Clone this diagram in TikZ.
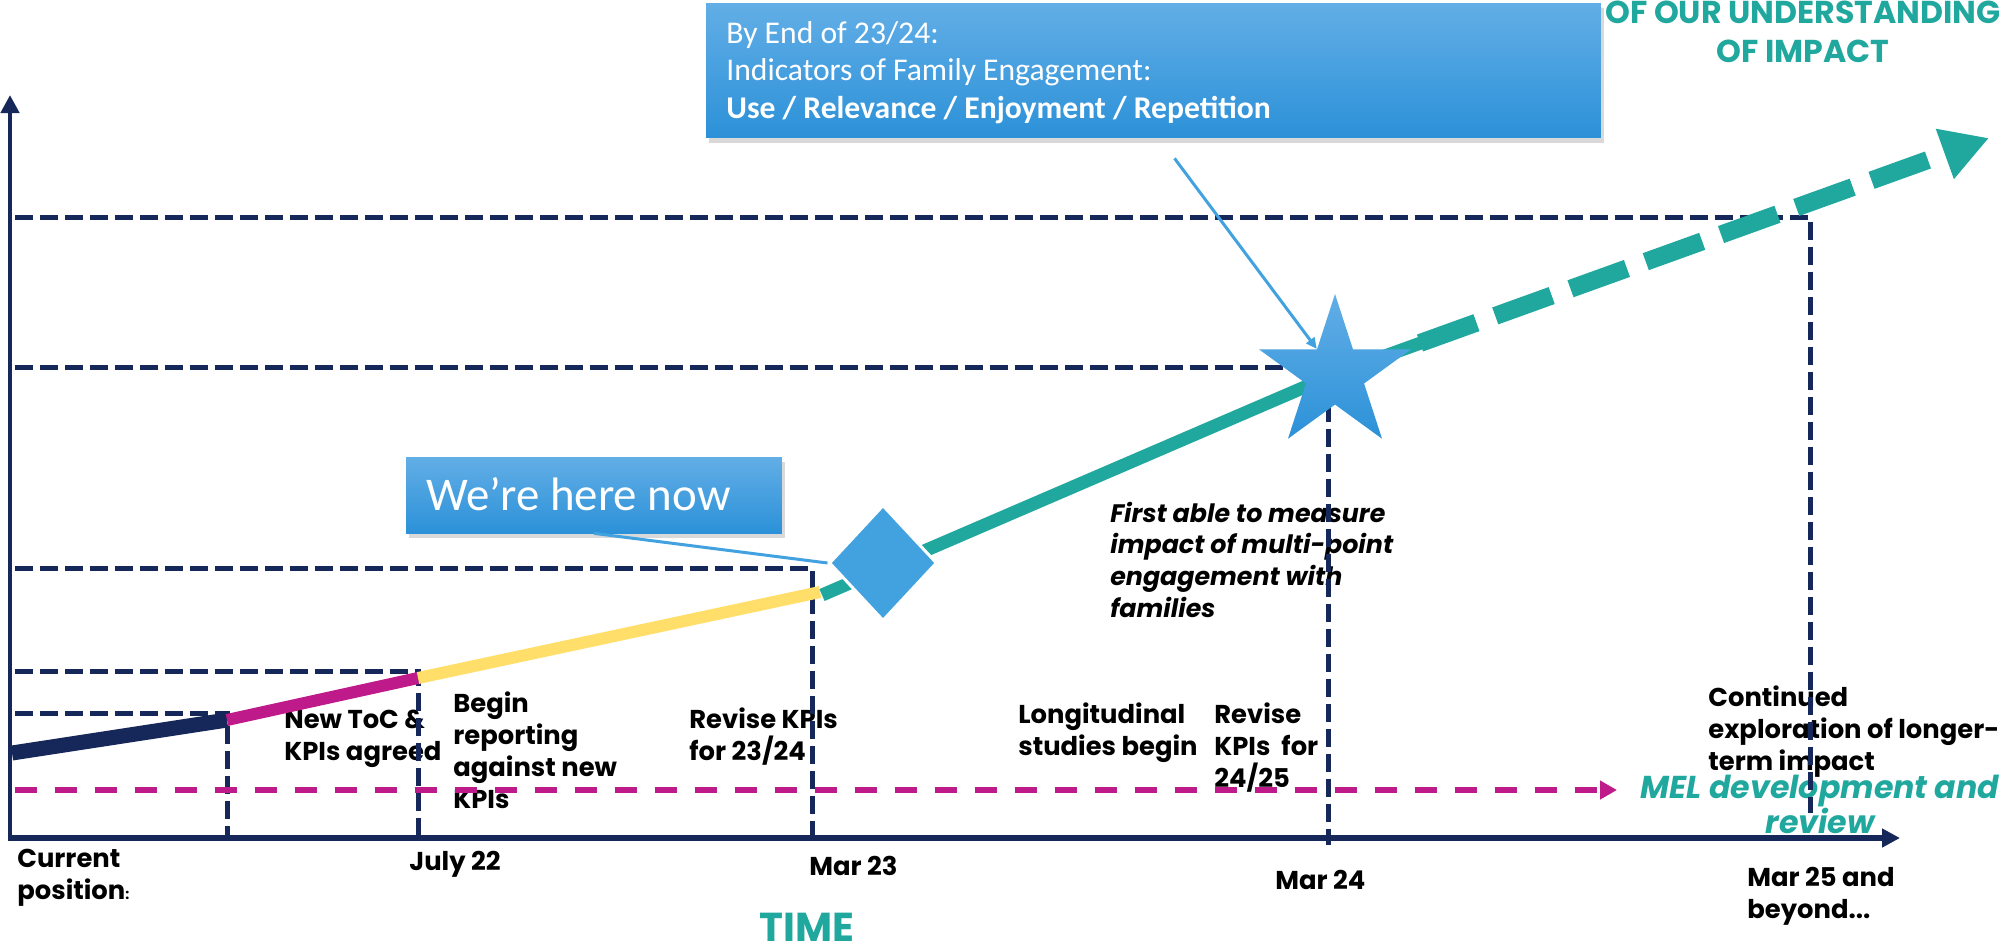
\documentclass[tikz,border=0pt]{standalone}
\usepackage{fontspec}
\setmainfont{Poppins}
\newfontfamily\calibri{Carlito}
\usetikzlibrary{arrows.meta}
\usetikzlibrary{shapes.geometric}
\usetikzlibrary{shadows}

\definecolor{navy}{RGB}{22,39,89}
\definecolor{mag}{RGB}{190,26,138}
\definecolor{sun}{RGB}{255,222,105}
\definecolor{impact}{RGB}{32,168,158}
\definecolor{skytop}{RGB}{98,174,230}
\definecolor{skybot}{RGB}{44,145,216}
\definecolor{marker}{RGB}{66,162,224}

\begin{document}
\begin{tikzpicture}[x=0.02cm,y=-0.02cm,
    guide/.style={navy,line width=0.1cm,dash pattern=on 0.36cm off 0.14cm},
    lbl/.style={font=\bfseries\fontsize{14.7}{18.2}\selectfont,align=left,inner sep=0pt,anchor=base west},
    callout/.style={top color=skytop,bottom color=skybot,draw=none,inner sep=0pt,
        drop shadow={shadow xshift=0.06cm,shadow yshift=-0.1cm,opacity=0.3}},
    pointer/.style={marker,line width=0.06cm}]
        \useasboundingbox (0,0) rectangle (2000,951);
        % labels under the time line (placed by the baseline of the last line)
        \node[lbl] (now0) at (17,899) {Current\\position{\fontsize{8}{8}\selectfont:}};
        \node[lbl] (jul22) at (409,870) {July 22};
        \node[lbl] (mar23) at (809,875) {Mar 23};
        \node[lbl] (mar24) at (1275,889) {Mar 24};
        \node[lbl] (mar25) at (1747,918) {Mar 25 and\\beyond...};
        \node[font=\bfseries\fontsize{23}{26}\selectfont,text=impact,anchor=base,inner sep=0pt] (timelbl) at (807,941) {TIME};
        % milestones
        \node[lbl] (toc) at (284,760) {New ToC \&\\KPIs agreed};
        \node[lbl] (report) at (453,808) {Begin\\reporting\\against new\\KPIs};
        \node[lbl] (rev1) at (689,760) {Revise KPIs\\for 23/24};
        \node[lbl] (longi) at (1018,755) {Longitudinal\\studies begin};
        \node[lbl] (rev2) at (1214,787) {Revise\\KPIs\ \ for\\24/25};
        \node[lbl] (cont) at (1708,770) {Continued\\exploration of longer-\\term impact};
        \node[lbl,font=\bfseries\itshape\fontsize{14.4}{18}\selectfont] (first) at (1110,617) {First able to measure\\impact of multi-point\\engagement with\\families};
        \node[font=\bfseries\itshape\fontsize{18}{19.9}\selectfont,text=impact,align=center,anchor=base,inner sep=0pt] (mel) at (1820,833) {MEL development and\\review};
        \node[font=\bfseries\fontsize{18}{22}\selectfont,text=impact,align=center,anchor=base,inner sep=0pt] (head) at (1803,62) {OF OUR UNDERSTANDING\\OF IMPACT};
        % axes
        \draw[navy,line width=0.1cm,-{Triangle[length=0.36cm,width=0.36cm]}] (10,841) -- (10,95);
        \draw[navy,line width=0.12cm,-{Triangle[length=0.36cm,width=0.36cm]}] (8,838) -- (1900,838);
        % guide lines
        \draw[guide] (15,713) -- (227,713) -- (227,838);
        \draw[guide] (15,671) -- (418,671) -- (418,838);
        \draw[guide] (15,568) -- (812,568) -- (812,838);
        \draw[guide] (15,367) -- (1328,367) -- (1328,845);
        \draw[guide] (15,217) -- (1810,217) -- (1810,813);
        \draw[mag,line width=0.12cm,dash pattern=on 0.44cm off 0.36cm,-{Triangle[length=0.34cm,width=0.36cm]}] (15,790) -- (1617,790);
        % trend
        \draw[navy,line width=0.3cm] (12,753) -- (227,720);
        \draw[mag,line width=0.24cm] (227,720) -- (418,678);
        \draw[sun,line width=0.24cm] (418,678) -- (820,592);
        \draw[impact,line width=0.26cm] (822,595) -- (1335,374) -- (1465,327);
        \draw[impact,line width=0.36cm,dash pattern=on 1.2cm off 0.4cm,-{Triangle[length=0.94cm,width=1cm]}] (1420,343) -- (1989,138);
        \node[diamond,fill=marker,draw=white,line width=0.06cm,minimum width=2.16cm,minimum height=2.32cm,inner sep=0pt] (now) at (883,563) {};
        \node[star,star points=5,star point ratio=2.618,minimum size=3.2cm,inner sep=0pt,top color=skytop,bottom color=skybot] (goal) at (1335,374) {};
        % callouts
        \node[callout,minimum width=7.52cm,minimum height=1.52cm] (herebox) at (594,495) {};
        \node[anchor=base west,inner sep=0pt,text=white,font=\calibri\fontsize{26.7}{32}\selectfont] (heretext) at (426,510) {We’re here now};
        \draw[pointer] (herebox.south) -- (now.west);
        \node[callout,minimum width=17.9cm,minimum height=2.7cm] (goalbox) at (1153.5,70.5) {};
        \node[anchor=base west,inner sep=0pt,text=white,align=left,font=\calibri\fontsize{18}{21.3}\selectfont] (goaltext) at (726,118) {By End of 23/24:\\Indicators of Family Engagement:\\\textbf{Use / Relevance / Enjoyment / Repetition}};
        \coordinate (goaltail) at ([xshift=0.42cm,yshift=-0.4cm]goalbox.south);
        \draw[pointer,-{Triangle[length=0.22cm,width=0.2cm]}] (goaltail) -- (goal.inner point 1);
    \end{tikzpicture}
\end{document}
